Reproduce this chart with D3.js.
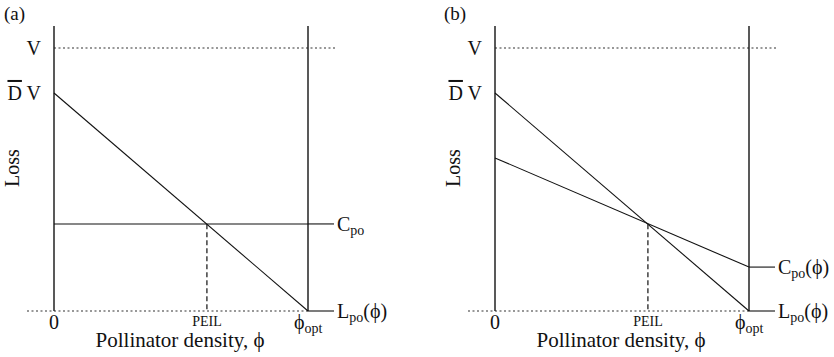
<!DOCTYPE html>
<html>
<head>
<meta charset="utf-8">
<script src="https://cdn.jsdelivr.net/npm/d3@7"></script>
<style>
  body { margin: 0; background: #fff; }
  text { font-family: "Liberation Serif", "DejaVu Serif", serif; fill: #111; }
</style>
</head>
<body>
<script>
// chart values (relative units, V = 1, phi_opt = 1)
var panelNames = ["(a)", "(b)"];
var lossLevels = { V: 1, DV: 0.829 };
var peil = 0.602;
var phiOpt = 1;
// loss curve L_po(phi) endpoints [phi, loss]
var lossLine = [[0, 0.829], [1, 0]];
// cost curves C_po for each panel
var costLineA = [[0, 0.331], [1, 0.331]];
var costLineB = [[0, 0.582], [1, 0.167]];
var costLabels = ["C", "C"];
var costLabelArgs = ["", "(\u03d5)"];
var xTickLabels = ["0", "PEIL"];

var width = 834, height = 357;
var svg = d3.select("body").append("svg")
            .attr("width", width)
            .attr("height", height);

// panel settings
var panelSettings = [
  { left: 54, right: 308, cost: costLineA, label: panelNames[0], labelX: 4 },
  { left: 495, right: 749, cost: costLineB, label: panelNames[1], labelX: 444 }
];

var axisTop = 26, y0 = 311, y1 = 48;
var fs = 20, subFs = 14;

function drawPanel(p, idx) {
  var g = svg.append("g");
  var x = d3.scaleLinear().domain([0, phiOpt]).range([p.left, p.right]);
  var y = d3.scaleLinear().domain([0, lossLevels.V]).range([y0, y1]);
  var line = d3.line().x(function(d){ return x(d[0]); }).y(function(d){ return y(d[1]); });

  // panel label
  g.append("text").attr("x", p.labelX).attr("y", 20)
   .attr("font-size", 19).text(p.label);

  // dotted V level
  g.append("line")
   .attr("x1", x(0)).attr("x2", x(0) + 281)
   .attr("y1", y(lossLevels.V)).attr("y2", y(lossLevels.V))
   .attr("stroke", "#333").attr("stroke-width", 1.2)
   .attr("stroke-dasharray", "2,2.5");

  // dotted baseline
  g.append("line")
   .attr("x1", x(0) - 27).attr("x2", x(phiOpt))
   .attr("y1", y(0)).attr("y2", y(0))
   .attr("stroke", "#333").attr("stroke-width", 1.2)
   .attr("stroke-dasharray", "2,2.5");

  // vertical axes
  g.append("line").attr("x1", x(0)).attr("x2", x(0))
   .attr("y1", axisTop).attr("y2", y(0))
   .attr("stroke", "#222").attr("stroke-width", 1.5);
  g.append("line").attr("x1", x(phiOpt)).attr("x2", x(phiOpt))
   .attr("y1", axisTop).attr("y2", y(0))
   .attr("stroke", "#222").attr("stroke-width", 1.5);

  // PEIL dashed drop line
  var peilY = lossLine[0][1] + (lossLine[1][1] - lossLine[0][1]) * peil;
  g.append("line").attr("x1", x(peil)).attr("x2", x(peil))
   .attr("y1", y(peilY)).attr("y2", y(0))
   .attr("stroke", "#222").attr("stroke-width", 1.3)
   .attr("stroke-dasharray", "5,3");

  // loss and cost lines
  g.append("path").datum(lossLine).attr("d", line)
   .attr("fill", "none").attr("stroke", "#111").attr("stroke-width", 1.1);
  g.append("path").datum(p.cost).attr("d", line)
   .attr("fill", "none").attr("stroke", "#111").attr("stroke-width", 1.1);

  // label leaders
  var cEnd = p.cost[1][1];
  g.append("line").attr("x1", x(phiOpt)).attr("x2", x(phiOpt) + 26)
   .attr("y1", y(cEnd)).attr("y2", y(cEnd))
   .attr("stroke", "#111").attr("stroke-width", 1.1);
  g.append("line").attr("x1", x(phiOpt)).attr("x2", x(phiOpt) + 26)
   .attr("y1", y(0)).attr("y2", y(0))
   .attr("stroke", "#111").attr("stroke-width", 1.1);

  // curve labels
  var ct = g.append("text").attr("x", x(phiOpt) + 29).attr("y", y(cEnd) + 7)
            .attr("font-size", fs);
  ct.append("tspan").text(costLabels[idx]);
  ct.append("tspan").attr("font-size", subFs).attr("dy", 4).text("po");
  ct.append("tspan").attr("dy", -4).text(costLabelArgs[idx]);

  var lt = g.append("text").attr("x", x(phiOpt) + 29).attr("y", y(0) + 7)
            .attr("font-size", fs);
  lt.append("tspan").text("L");
  lt.append("tspan").attr("font-size", subFs).attr("dy", 4).text("po");
  lt.append("tspan").attr("dy", -4).text("(\u03d5)");

  // y-level labels
  g.append("text").attr("x", x(0) - 13).attr("y", y(lossLevels.V) + 7)
   .attr("text-anchor", "end").attr("font-size", fs).text("V");
  var dv = g.append("text").attr("x", x(0) - 13).attr("y", y(lossLevels.DV) + 7)
            .attr("text-anchor", "end").attr("font-size", fs);
  dv.append("tspan").attr("text-decoration", "overline").text("D");
  dv.append("tspan").text(" V");

  // x tick labels
  g.append("text").attr("x", x(0)).attr("y", y(0) + 18)
   .attr("text-anchor", "middle").attr("font-size", fs).text(xTickLabels[0]);
  g.append("text").attr("x", x(peil)).attr("y", y(0) + 15)
   .attr("text-anchor", "middle").attr("font-size", 14).text(xTickLabels[1]);
  var ot = g.append("text").attr("x", x(phiOpt) - 14).attr("y", y(0) + 18)
            .attr("font-size", fs);
  ot.append("tspan").text("\u03d5");
  ot.append("tspan").attr("font-size", subFs).attr("dy", 4).text("opt");

  // axis titles
  g.append("text").attr("x", (x(0) + x(phiOpt)) / 2 - 1).attr("y", 347)
   .attr("text-anchor", "middle").attr("font-size", 21)
   .text("Pollinator density, \u03d5");
  g.append("text")
   .attr("transform", "translate(" + (x(0) - 35) + "," + 168 + ") rotate(-90)")
   .attr("text-anchor", "middle").attr("font-size", fs).text("Loss");
}

panelSettings.forEach(drawPanel);
</script>
</body>
</html>
